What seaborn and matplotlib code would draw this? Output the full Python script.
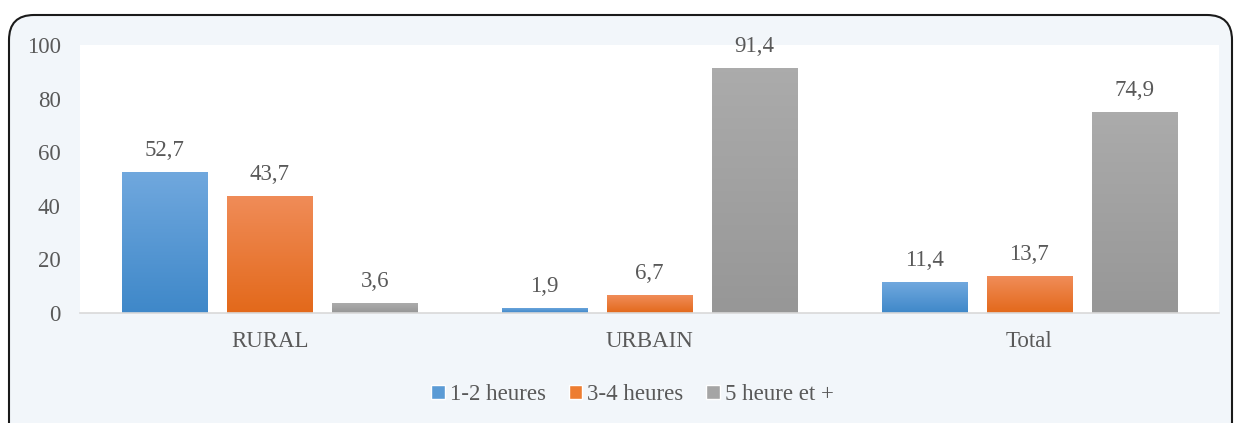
import numpy as np
import pandas as pd
import matplotlib.pyplot as plt
import seaborn as sns
from matplotlib.patches import FancyBboxPatch
from matplotlib.transforms import IdentityTransform
from matplotlib.colors import LinearSegmentedColormap

# data
zones = ['RURAL', 'URBAIN', 'Total']
durees = ['1-2 heures', '3-4 heures', '5 heure et +']
v_12h = [52.7, 1.9, 11.4]
v_34h = [43.7, 6.7, 13.7]
v_5h = [3.6, 91.4, 74.9]
couleurs = ['#5B9BD5', '#ED7D31', '#A5A5A5']
# gradient top -> bottom for each series
degrades = [('#70A8DE', '#3F88C9'), ('#F08C58', '#E3691B'), ('#ABABAB', '#979797')]

df = pd.DataFrame({
    'zone': zones * 3,
    'duree': [durees[0]] * 3 + [durees[1]] * 3 + [durees[2]] * 3,
    'valeur': v_12h + v_34h + v_5h,
})

sns.set_style('white')
plt.rcParams['font.family'] = ['Liberation Serif', 'DejaVu Serif']
txt = '#595959'
fs = 16.5

fig = plt.figure(figsize=(12.34, 4.23), dpi=100, facecolor='white')
# rounded frame of the chart (pixel coords, bottom-left origin)
frame = FancyBboxPatch((9, -40), 1223, 423 - 15 + 40,
                       boxstyle='round,pad=0,rounding_size=25',
                       transform=IdentityTransform(), facecolor='#F2F6FA',
                       edgecolor='#1a1a1a', linewidth=1.5, zorder=-5)
fig.patches.append(frame)

ax = fig.add_axes([80 / 1234, 1 - 313 / 423, (1219 - 80) / 1234, (313 - 45) / 423])
ax.set_facecolor('white')

sns.barplot(data=df, x='zone', y='valeur', hue='duree', palette=couleurs,
            width=0.83, gap=0.19, ax=ax, legend=True, saturation=1)

# vertical gradient fill on each bar
for cont, (haut, bas) in zip(ax.containers, degrades):
    cmap = LinearSegmentedColormap.from_list('g', [bas, haut])
    for bar in cont:
        x0, w, h = bar.get_x(), bar.get_width(), bar.get_height()
        im = ax.imshow(np.linspace(0, 1, 64).reshape(-1, 1), cmap=cmap, origin='lower',
                       extent=(x0, x0 + w, 0, h), aspect='auto', zorder=bar.get_zorder())
        im.set_clip_path(bar)
        bar.set_facecolor('none')
    ax.bar_label(cont, labels=[f'{v:.1f}'.replace('.', ',') for v in cont.datavalues],
                 padding=8, fontsize=fs, color=txt)
ax.set_ylim(0, 100)
ax.set_xlim(-0.5, 2.5)
ax.set_aspect('auto')

ax.set_yticks(range(0, 101, 20))
ax.set_xlabel('')
ax.set_ylabel('')
ax.tick_params(axis='both', length=0, labelsize=fs, labelcolor=txt)
ax.tick_params(axis='x', pad=13)
ax.tick_params(axis='y', pad=14)
for s in ['top', 'right', 'left']:
    ax.spines[s].set_visible(False)
ax.spines['bottom'].set_color('#D9D9D9')
ax.spines['bottom'].set_linewidth(1.2)

ax.legend(loc='center', bbox_to_anchor=(0.485, -0.305), ncol=3, frameon=False,
          fontsize=fs, labelcolor=txt, handlelength=0.6, handleheight=0.6,
          handletextpad=0.2, columnspacing=1.0)

fig.savefig('out.png', dpi=100, facecolor=fig.get_facecolor())
